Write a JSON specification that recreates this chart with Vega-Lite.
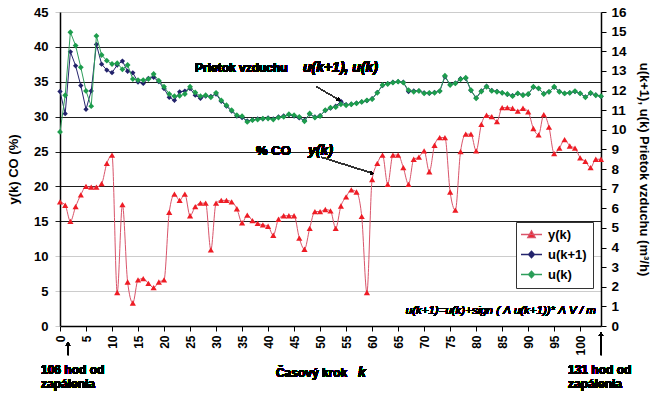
{
  "$schema": "https://vega.github.io/schema/vega-lite/v6.json",
  "width": 541,
  "height": 314,
  "autosize": {"type": "none"},
  "padding": {"left": 60, "top": 12, "right": 59, "bottom": 68},
  "datasets": {
    "main": [
      {"k":0,"y":17.8,"u1":11.95,"u":9.89},
      {"k":1,"y":17.3,"u1":10.82,"u":11.76},
      {"k":2,"y":15.0,"u1":13.97,"u":14.97},
      {"k":3,"y":17.1,"u1":13.26,"u":14.29},
      {"k":4,"y":18.8,"u1":12.25,"u":13.18},
      {"k":5,"y":20.0,"u1":11.04,"u":11.98},
      {"k":6,"y":19.9,"u1":11.98,"u":11.2},
      {"k":7,"y":19.9,"u1":14.35,"u":14.78},
      {"k":8,"y":20.4,"u1":13.34,"u":13.81},
      {"k":9,"y":23.3,"u1":13.04,"u":13.52},
      {"k":10,"y":24.5,"u1":12.91,"u":13.35},
      {"k":11,"y":4.8,"u1":13.3,"u":13.39},
      {"k":12,"y":17.4,"u1":13.5,"u":13.08},
      {"k":13,"y":6.3,"u1":12.98,"u":13.3},
      {"k":14,"y":3.3,"u1":12.9,"u":12.58},
      {"k":15,"y":6.6,"u1":12.43,"u":12.53},
      {"k":16,"y":6.8,"u1":12.36,"u":12.53},
      {"k":17,"y":6.1,"u1":12.62,"u":12.58},
      {"k":18,"y":5.5,"u1":12.67,"u":12.84},
      {"k":19,"y":6.3,"u1":12.45,"u":12.5},
      {"k":20,"y":6.6,"u1":12.1,"u":12.19},
      {"k":21,"y":16.3,"u1":11.65,"u":11.82},
      {"k":22,"y":18.9,"u1":11.5,"u":11.71},
      {"k":23,"y":18.0,"u1":11.93,"u":11.73},
      {"k":24,"y":18.9,"u1":11.97,"u":11.82},
      {"k":25,"y":15.8,"u1":12.1,"u":12.19},
      {"k":26,"y":17.1,"u1":11.76,"u":11.9},
      {"k":27,"y":17.6,"u1":11.6,"u":11.71},
      {"k":28,"y":17.6,"u1":11.72,"u":11.76},
      {"k":29,"y":10.9,"u1":11.7,"u":11.65},
      {"k":30,"y":17.6,"u1":11.82,"u":11.88},
      {"k":31,"y":18.0,"u1":11.45,"u":11.5},
      {"k":32,"y":18.0,"u1":11.2,"u":11.25},
      {"k":33,"y":17.8,"u1":10.95,"u":11.0},
      {"k":34,"y":16.8,"u1":10.7,"u":10.74},
      {"k":35,"y":14.8,"u1":10.62,"u":10.69},
      {"k":36,"y":15.9,"u1":10.45,"u":10.4},
      {"k":37,"y":15.1,"u1":10.5,"u":10.49},
      {"k":38,"y":14.7,"u1":10.55,"u":10.52},
      {"k":39,"y":14.5,"u1":10.55,"u":10.57},
      {"k":40,"y":14.3,"u1":10.6,"u":10.57},
      {"k":41,"y":13.0,"u1":10.55,"u":10.52},
      {"k":42,"y":15.3,"u1":10.65,"u":10.62},
      {"k":43,"y":15.8,"u1":10.7,"u":10.66},
      {"k":44,"y":15.8,"u1":10.76,"u":10.79},
      {"k":45,"y":15.8,"u1":10.7,"u":10.74},
      {"k":46,"y":12.6,"u1":10.6,"u":10.66},
      {"k":47,"y":11.0,"u1":10.48,"u":10.43},
      {"k":48,"y":14.0,"u1":10.8,"u":10.83},
      {"k":49,"y":16.4,"u1":10.65,"u":10.62},
      {"k":50,"y":16.4,"u1":10.72,"u":10.69},
      {"k":51,"y":16.7,"u1":10.98,"u":11.0},
      {"k":52,"y":16.5,"u1":11.1,"u":11.13},
      {"k":53,"y":14.0,"u1":11.2,"u":11.15},
      {"k":54,"y":17.2,"u1":11.45,"u":11.3},
      {"k":55,"y":18.5,"u1":11.28,"u":11.25},
      {"k":56,"y":19.5,"u1":11.3,"u":11.3},
      {"k":57,"y":19.2,"u1":11.36,"u":11.34},
      {"k":58,"y":15.7,"u1":11.42,"u":11.42},
      {"k":59,"y":4.8,"u1":11.48,"u":11.5},
      {"k":60,"y":21.0,"u1":11.58,"u":11.56},
      {"k":61,"y":23.3,"u1":11.9,"u":11.88},
      {"k":62,"y":24.5,"u1":12.25,"u":12.28},
      {"k":63,"y":20.3,"u1":12.35,"u":12.33},
      {"k":64,"y":24.5,"u1":12.42,"u":12.4},
      {"k":65,"y":24.5,"u1":12.45,"u":12.45},
      {"k":66,"y":22.7,"u1":12.42,"u":12.4},
      {"k":67,"y":20.3,"u1":11.95,"u":12.02},
      {"k":68,"y":23.9,"u1":11.98,"u":11.93},
      {"k":69,"y":24.2,"u1":11.98,"u":11.98},
      {"k":70,"y":25.1,"u1":11.88,"u":11.85},
      {"k":71,"y":22.1,"u1":11.85,"u":11.88},
      {"k":72,"y":25.9,"u1":11.9,"u":11.88},
      {"k":73,"y":27.0,"u1":11.97,"u":11.97},
      {"k":74,"y":27.0,"u1":12.7,"u":12.75},
      {"k":75,"y":19.2,"u1":12.3,"u":12.28},
      {"k":76,"y":16.6,"u1":12.38,"u":12.36},
      {"k":77,"y":25.0,"u1":12.6,"u":12.57},
      {"k":78,"y":27.5,"u1":12.62,"u":12.65},
      {"k":79,"y":27.5,"u1":12.0,"u":12.02},
      {"k":80,"y":25.1,"u1":11.62,"u":11.6},
      {"k":81,"y":28.9,"u1":11.98,"u":11.95},
      {"k":82,"y":30.2,"u1":12.22,"u":12.19},
      {"k":83,"y":30.0,"u1":12.0,"u":11.98},
      {"k":84,"y":29.3,"u1":11.95,"u":11.93},
      {"k":85,"y":31.3,"u1":11.88,"u":11.88},
      {"k":86,"y":31.3,"u1":11.8,"u":11.82},
      {"k":87,"y":31.2,"u1":11.74,"u":11.71},
      {"k":88,"y":30.8,"u1":11.85,"u":11.85},
      {"k":89,"y":31.2,"u1":11.78,"u":11.76},
      {"k":90,"y":30.7,"u1":11.8,"u":11.82},
      {"k":91,"y":28.3,"u1":12.17,"u":12.19},
      {"k":92,"y":27.4,"u1":12.1,"u":12.11},
      {"k":93,"y":30.3,"u1":11.84,"u":11.82},
      {"k":94,"y":28.5,"u1":11.93,"u":11.93},
      {"k":95,"y":24.7,"u1":12.17,"u":12.19},
      {"k":96,"y":25.5,"u1":11.95,"u":11.93},
      {"k":97,"y":26.7,"u1":11.85,"u":11.85},
      {"k":98,"y":25.8,"u1":11.88,"u":11.88},
      {"k":99,"y":25.5,"u1":11.95,"u":11.97},
      {"k":100,"y":24.1,"u1":11.85,"u":11.85},
      {"k":101,"y":23.6,"u1":11.67,"u":11.65},
      {"k":102,"y":22.7,"u1":11.86,"u":11.88},
      {"k":103,"y":23.9,"u1":11.77,"u":11.76},
      {"k":104,"y":23.9,"u1":11.7,"u":11.71}
    ],
    "leg": [
      {"series": "y(k)"},
      {"series": "u(k+1)"},
      {"series": "u(k)"}
    ]
  },
  "data": {"name": "main"},
  "config": {
    "view": {"stroke": null},
    "font": "Liberation Sans",
    "axis": {
      "labelFont": "Liberation Sans",
      "labelFontWeight": "bold",
      "labelColor": "#000",
      "titleFont": "Liberation Sans",
      "titleFontWeight": "bold",
      "titleColor": "#000",
      "domainColor": "#000",
      "tickColor": "#000",
      "labelOverlap": false
    }
  },
  "resolve": {"scale": {"x": "independent", "y": "independent"}},
  "layer": [
    {
      "mark": {"type": "line", "color": "#d9546a", "strokeWidth": 1, "interpolate": "monotone"},
      "encoding": {
        "x": {"field": "k", "type": "quantitative", "scale": {"domain": [0, 104], "nice": false, "zero": false},
          "axis": {"orient": "bottom", "values": [0,5,10,15,20,25,30,35,40,45,50,55,60,65,70,75,80,85,90,95,100], "labelAngle": -90, "labelFontSize": 12, "tickSize": 5, "labelPadding": 4, "grid": false, "title": null, "domainWidth": 1.5, "labelOverlap": false}},
        "y": {"field": "y", "type": "quantitative", "scale": {"domain": [0, 45], "nice": false, "zero": false},
          "axis": {"orient": "left", "values": [0,5,10,15,20,25,30,35,40,45], "title": "y(k)  CO (%)", "titleFontSize": 13, "titlePadding": 13, "labelFontSize": 13, "labelPadding": 7, "tickSize": 5, "grid": true, "gridColor": {"condition": {"test": "datum.value >= 15 && datum.value <= 40", "value": "#1e1e1e"}, "value": "#cccccc"}, "tickColor": {"condition": {"test": "datum.value >= 15 && datum.value <= 40", "value": "#1e1e1e"}, "value": "#cccccc"}, "gridWidth": 1.2, "domainWidth": 1.5, "labelOverlap": false}}
      }
    },
    {
      "mark": {"type": "line", "color": "#25256e", "strokeWidth": 1},
      "encoding": {
        "x": {"field": "k", "type": "quantitative", "scale": {"domain": [0, 104], "nice": false, "zero": false}, "axis": null},
        "y": {"field": "u1", "type": "quantitative", "scale": {"domain": [0, 16], "nice": false, "zero": false},
          "axis": {"orient": "right", "values": [0,1,2,3,4,5,6,7,8,9,10,11,12,13,14,15,16], "title": "u(k+1), u(k)  Prietok vzduchu  (m³/h)", "titleFontSize": 13, "titlePadding": 10, "labelFontSize": 13.5, "labelPadding": 5, "tickSize": 5, "grid": false, "domainWidth": 1.5, "labelOverlap": false}}
      }
    },
    {
      "mark": {"type": "point", "shape": "triangle-up", "filled": true, "color": "#ee1c25", "size": 38, "opacity": 1},
      "encoding": {
        "x": {"field": "k", "type": "quantitative", "scale": {"domain": [0, 104], "nice": false, "zero": false}, "axis": null},
        "y": {"field": "y", "type": "quantitative", "scale": {"domain": [0, 45], "nice": false, "zero": false}, "axis": null}
      }
    },
    {
      "mark": {"type": "point", "shape": "diamond", "filled": true, "color": "#22226a", "size": 28, "opacity": 1},
      "encoding": {
        "x": {"field": "k", "type": "quantitative", "scale": {"domain": [0, 104], "nice": false, "zero": false}, "axis": null},
        "y": {"field": "u1", "type": "quantitative", "scale": {"domain": [0, 16], "nice": false, "zero": false}, "axis": null}
      }
    },
    {
      "mark": {"type": "line", "color": "#2e9e5b", "strokeWidth": 1},
      "encoding": {
        "x": {"field": "k", "type": "quantitative", "scale": {"domain": [0, 104], "nice": false, "zero": false}, "axis": null},
        "y": {"field": "u", "type": "quantitative", "scale": {"domain": [0, 16], "nice": false, "zero": false}, "axis": null}
      }
    },
    {
      "mark": {"type": "point", "shape": "diamond", "filled": true, "color": "#1d9d4d", "size": 34, "opacity": 1},
      "encoding": {
        "x": {"field": "k", "type": "quantitative", "scale": {"domain": [0, 104], "nice": false, "zero": false}, "axis": null},
        "y": {"field": "u", "type": "quantitative", "scale": {"domain": [0, 16], "nice": false, "zero": false}, "axis": null}
      }
    },
    {
      "data": {"name": "leg"},
      "transform": [{"filter": "false"}],
      "mark": {"type": "point", "filled": true, "size": 100, "strokeWidth": 1.3, "opacity": 1},
      "encoding": {
        "shape": {
          "field": "series", "type": "nominal",
          "scale": {"domain": ["y(k)", "u(k+1)", "u(k)"], "range": ["M-2.1,0H2.1M0,-0.75L0.75,0.6L-0.75,0.6Z", "M-2.1,0H2.1M0,-0.65L0.6,0L0,0.65L-0.6,0Z", "M-2.1,0H2.1M0,-0.65L0.6,0L0,0.65L-0.6,0Z"]},
          "legend": {"title": null, "orient": "none", "legendX": 456, "legendY": 210, "symbolSize": 100, "labelFontSize": 13, "labelFontWeight": "bold", "labelFont": "Liberation Sans", "labelColor": "#000", "strokeColor": "#333", "fillColor": "#fff", "padding": 6, "symbolOffset": 3, "labelOffset": 10, "rowPadding": 6, "symbolStrokeWidth": 1.3}
        },
        "fill": {
          "field": "series", "type": "nominal",
          "scale": {"domain": ["y(k)", "u(k+1)", "u(k)"], "range": ["#ee1c25", "#22226a", "#1d9d4d"]},
          "legend": {"title": null, "orient": "none", "legendX": 456, "legendY": 210, "symbolSize": 100, "labelFontSize": 13, "labelFontWeight": "bold", "labelFont": "Liberation Sans", "labelColor": "#000", "strokeColor": "#333", "fillColor": "#fff", "padding": 6, "symbolOffset": 3, "labelOffset": 10, "rowPadding": 6, "symbolStrokeWidth": 1.3}
        },
        "stroke": {
          "field": "series", "type": "nominal",
          "scale": {"domain": ["y(k)", "u(k+1)", "u(k)"], "range": ["#d9546a", "#25256e", "#2e9e5b"]},
          "legend": {"title": null, "orient": "none", "legendX": 456, "legendY": 210, "symbolSize": 100, "labelFontSize": 13, "labelFontWeight": "bold", "labelFont": "Liberation Sans", "labelColor": "#000", "strokeColor": "#333", "fillColor": "#fff", "padding": 6, "symbolOffset": 3, "labelOffset": 10, "rowPadding": 6, "symbolStrokeWidth": 1.3}
        }
      }
    },
    {
      "mark": {"type": "text", "text": "Prietok vzduchu", "align": "left", "baseline": "middle", "fontSize": 12, "fontWeight": "bold", "color": "#000", "font": "Liberation Sans"},
      "encoding": {"x": {"datum": 25.95, "type": "quantitative", "scale": {"domain": [0, 104], "nice": false, "zero": false}, "axis": null}, "y": {"datum": 36.97, "type": "quantitative", "scale": {"domain": [0, 45], "nice": false, "zero": false}, "axis": null}}
    },
    {
      "mark": {"type": "text", "text": "u(k+1), u(k)", "align": "left", "baseline": "middle", "fontSize": 14, "fontWeight": "bold", "fontStyle": "italic", "color": "#000", "font": "Liberation Sans"},
      "encoding": {"x": {"datum": 46.7, "type": "quantitative", "scale": {"domain": [0, 104], "nice": false, "zero": false}, "axis": null}, "y": {"datum": 36.97, "type": "quantitative", "scale": {"domain": [0, 45], "nice": false, "zero": false}, "axis": null}}
    },
    {
      "mark": {"type": "text", "text": "% CO", "align": "left", "baseline": "middle", "fontSize": 13, "fontWeight": "bold", "color": "#000", "font": "Liberation Sans"},
      "encoding": {"x": {"datum": 37.7, "type": "quantitative", "scale": {"domain": [0, 104], "nice": false, "zero": false}, "axis": null}, "y": {"datum": 25.12, "type": "quantitative", "scale": {"domain": [0, 45], "nice": false, "zero": false}, "axis": null}}
    },
    {
      "mark": {"type": "text", "text": "y(k)", "align": "left", "baseline": "middle", "fontSize": 14, "fontWeight": "bold", "fontStyle": "italic", "color": "#000", "font": "Liberation Sans"},
      "encoding": {"x": {"datum": 47.7, "type": "quantitative", "scale": {"domain": [0, 104], "nice": false, "zero": false}, "axis": null}, "y": {"datum": 25.12, "type": "quantitative", "scale": {"domain": [0, 45], "nice": false, "zero": false}, "axis": null}}
    },
    {
      "mark": {"type": "text", "text": "u(k+1)=u(k)+sign ( Λ u(k+1))* Λ V / m", "align": "right", "baseline": "middle", "fontSize": 11.5, "fontStyle": "italic", "fontWeight": "normal", "color": "#000", "font": "Liberation Sans"},
      "encoding": {"x": {"datum": 103.0, "type": "quantitative", "scale": {"domain": [0, 104], "nice": false, "zero": false}, "axis": null}, "y": {"datum": 2.15, "type": "quantitative", "scale": {"domain": [0, 45], "nice": false, "zero": false}, "axis": null}}
    },
    {
      "mark": {"type": "text", "text": ["106 hod od", "zapálenia"], "align": "left", "baseline": "top", "lineHeight": 13.5, "fontSize": 12, "fontWeight": "bold", "color": "#000", "font": "Liberation Sans"},
      "encoding": {"x": {"datum": -3.65, "type": "quantitative", "scale": {"domain": [0, 104], "nice": false, "zero": false}, "axis": null}, "y": {"datum": -5.59, "type": "quantitative", "scale": {"domain": [0, 45], "nice": false, "zero": false}, "axis": null}}
    },
    {
      "mark": {"type": "text", "text": ["131 hod od", "zapálenia"], "align": "left", "baseline": "top", "lineHeight": 13.5, "fontSize": 12, "fontWeight": "bold", "color": "#000", "font": "Liberation Sans"},
      "encoding": {"x": {"datum": 97.65, "type": "quantitative", "scale": {"domain": [0, 104], "nice": false, "zero": false}, "axis": null}, "y": {"datum": -5.59, "type": "quantitative", "scale": {"domain": [0, 45], "nice": false, "zero": false}, "axis": null}}
    },
    {
      "mark": {"type": "text", "text": "Časový krok", "align": "left", "baseline": "alphabetic", "fontSize": 12, "fontWeight": "bold", "color": "#000", "font": "Liberation Sans"},
      "encoding": {"x": {"datum": 41.5, "type": "quantitative", "scale": {"domain": [0, 104], "nice": false, "zero": false}, "axis": null}, "y": {"datum": -7.31, "type": "quantitative", "scale": {"domain": [0, 45], "nice": false, "zero": false}, "axis": null}}
    },
    {
      "mark": {"type": "text", "text": "k", "align": "left", "baseline": "alphabetic", "fontSize": 14, "fontWeight": "bold", "fontStyle": "italic", "color": "#000", "font": "Liberation Sans"},
      "encoding": {"x": {"datum": 57.3, "type": "quantitative", "scale": {"domain": [0, 104], "nice": false, "zero": false}, "axis": null}, "y": {"datum": -7.31, "type": "quantitative", "scale": {"domain": [0, 45], "nice": false, "zero": false}, "axis": null}}
    },
    {
      "mark": {"type": "rule", "color": "#000", "strokeWidth": 1},
      "encoding": {"x": {"datum": 1.54, "type": "quantitative", "scale": {"domain": [0, 104], "nice": false, "zero": false}, "axis": null}, "y": {"datum": -4.16, "type": "quantitative", "scale": {"domain": [0, 45], "nice": false, "zero": false}, "axis": null}, "y2": {"datum": -2.5}}
    },
    {
      "mark": {"type": "point", "shape": "triangle-up", "filled": true, "color": "#000", "size": 18, "opacity": 1},
      "encoding": {"x": {"datum": 1.54, "type": "quantitative", "scale": {"domain": [0, 104], "nice": false, "zero": false}, "axis": null}, "y": {"datum": -2.55, "type": "quantitative", "scale": {"domain": [0, 45], "nice": false, "zero": false}, "axis": null}}
    },
    {
      "mark": {"type": "rule", "color": "#000", "strokeWidth": 1},
      "encoding": {"x": {"datum": 104, "type": "quantitative", "scale": {"domain": [0, 104], "nice": false, "zero": false}, "axis": null}, "y": {"datum": -4.16, "type": "quantitative", "scale": {"domain": [0, 45], "nice": false, "zero": false}, "axis": null}, "y2": {"datum": -1.2}}
    },
    {
      "mark": {"type": "point", "shape": "triangle-up", "filled": true, "color": "#000", "size": 18, "opacity": 1},
      "encoding": {"x": {"datum": 104, "type": "quantitative", "scale": {"domain": [0, 104], "nice": false, "zero": false}, "axis": null}, "y": {"datum": -1.15, "type": "quantitative", "scale": {"domain": [0, 45], "nice": false, "zero": false}, "axis": null}}
    },
    {
      "mark": {"type": "rule", "color": "#333", "strokeWidth": 1},
      "encoding": {"x": {"datum": 49.3, "type": "quantitative", "scale": {"domain": [0, 104], "nice": false, "zero": false}, "axis": null}, "y": {"datum": 34.29, "type": "quantitative", "scale": {"domain": [0, 45], "nice": false, "zero": false}, "axis": null}, "x2": {"datum": 53.7}, "y2": {"datum": 32.39}}
    },
    {
      "mark": {"type": "point", "shape": "triangle-right", "angle": 30, "filled": true, "color": "#000", "size": 14, "opacity": 1},
      "encoding": {"x": {"datum": 53.6, "type": "quantitative", "scale": {"domain": [0, 104], "nice": false, "zero": false}, "axis": null}, "y": {"datum": 32.45, "type": "quantitative", "scale": {"domain": [0, 45], "nice": false, "zero": false}, "axis": null}}
    },
    {
      "mark": {"type": "rule", "color": "#333", "strokeWidth": 1},
      "encoding": {"x": {"datum": 50.3, "type": "quantitative", "scale": {"domain": [0, 104], "nice": false, "zero": false}, "axis": null}, "y": {"datum": 24.18, "type": "quantitative", "scale": {"domain": [0, 45], "nice": false, "zero": false}, "axis": null}, "x2": {"datum": 60.1}, "y2": {"datum": 21.88}}
    },
    {
      "mark": {"type": "point", "shape": "triangle-right", "angle": 17, "filled": true, "color": "#000", "size": 14, "opacity": 1},
      "encoding": {"x": {"datum": 60.0, "type": "quantitative", "scale": {"domain": [0, 104], "nice": false, "zero": false}, "axis": null}, "y": {"datum": 21.9, "type": "quantitative", "scale": {"domain": [0, 45], "nice": false, "zero": false}, "axis": null}}
    }
  ]
}
